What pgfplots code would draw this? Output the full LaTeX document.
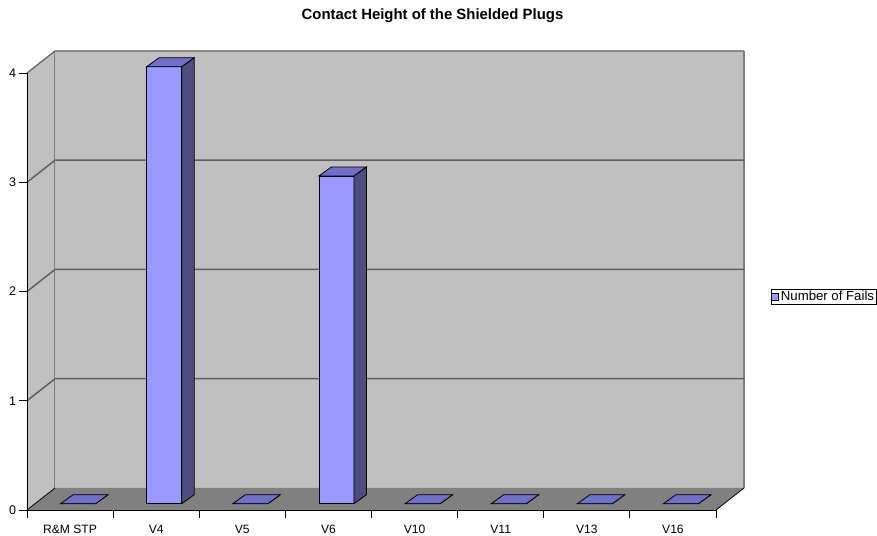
\documentclass[border=0pt]{standalone}
\usepackage{pgfplots}
\pgfplotsset{compat=1.18}
\usepackage{pgfplotstable}
\usepackage{fontspec}
\setmainfont{Liberation Sans}

\definecolor{wallgray}{RGB}{192,192,192}
\definecolor{floorgray}{RGB}{128,128,128}
\definecolor{gridgray}{RGB}{96,96,96}
\definecolor{edgegray}{RGB}{128,128,128}
\definecolor{barfront}{RGB}{153,153,255}
\definecolor{bartop}{RGB}{112,112,200}
\definecolor{barside}{RGB}{77,77,128}

% number of fails per plug version
\pgfplotstableread{
cat val
RMSTP 0
V4 4
V5 0
V6 3
V10 0
V11 0
V13 0
V16 0
}\failsdata

% depth of the 3-D box, in axis units
\def\dx{0.325}
\def\dy{0.2014}

% a bar drawn as a cuboid: front face, side face and top face
\pgfdeclareplotmark{cuboid}{%
  \pgfmathsetmacro\ybot{6.3-\barval*109.25}%
  \pgfmathsetmacro\ybotback{15.3-\barval*109.25}%
  \pgfsetlinewidth{0.8pt}%
  \pgfsetstrokecolor{black}%
  \pgfsetfillcolor{barfront}%
  \pgfpathrectanglecorners{\pgfpoint{-9.5pt}{\ybot pt}}{\pgfpoint{25.5pt}{6.3pt}}%
  \pgfusepath{fill,stroke}%
  \pgfsetfillcolor{barside}%
  \pgfpathmoveto{\pgfpoint{25.5pt}{6.3pt}}%
  \pgfpathlineto{\pgfpoint{38pt}{15.3pt}}%
  \pgfpathlineto{\pgfpoint{38pt}{\ybotback pt}}%
  \pgfpathlineto{\pgfpoint{25.5pt}{\ybot pt}}%
  \pgfpathclose
  \pgfusepath{fill,stroke}%
  \pgfsetfillcolor{bartop}%
  \pgfpathmoveto{\pgfpoint{-9.5pt}{6.3pt}}%
  \pgfpathlineto{\pgfpoint{25.5pt}{6.3pt}}%
  \pgfpathlineto{\pgfpoint{38pt}{15.3pt}}%
  \pgfpathlineto{\pgfpoint{3pt}{15.3pt}}%
  \pgfpathclose
  \pgfusepath{fill,stroke}%
}

\begin{document}
\begin{tikzpicture}
\useasboundingbox (-27pt,-25pt) rectangle (850pt,510pt);
\begin{axis}[
  at={(0,0)}, anchor=origin,
  x=86.125pt, y=109.25pt,
  xmin=0, xmax=8, ymin=0, ymax=4,
  clip=false,
  axis on top=true,
  axis lines=left,
  axis line style={-, black, line width=0.8pt},
  tick align=outside,
  major tick length=7.5pt,
  tick style={black, line width=0.8pt},
  xtick={0,...,8},
  xticklabels={R\&M STP,V4,V5,V6,V10,V11,V13,V16,{}},
  xticklabel style={xshift=43.06pt, yshift=-4pt, font=\fontsize{12.1}{13}\selectfont},
  ytick={0,...,4},
  yticklabel style={font=\fontsize{12.5}{13}\selectfont},
  /pgf/number format/assume math mode=true,
  title={Contact Height of the Shielded Plugs},
  title style={at={(rel axis cs:0.5885,1.117)}, anchor=center,
    font=\bfseries\fontsize{14.9}{16}\selectfont},
  legend style={at={(rel axis cs:1.0798,0.5057)}, anchor=north west,
    draw=black, line width=0.6pt, inner sep=0pt, outer sep=0pt,
    font=\fontsize{13.2}{14}\selectfont,
    /tikz/every even column/.append style={column sep=1pt},
    legend cell align=left},
]
% left side wall, back wall and floor
\fill[wallgray] (axis cs:0,0) -- (axis cs:\dx,\dy) -- (axis cs:\dx,4.2014) -- (axis cs:0,4) -- cycle;
\fill[wallgray] (axis cs:\dx,\dy) -- (axis cs:8.325,\dy) -- (axis cs:8.325,4.2014) -- (axis cs:\dx,4.2014) -- cycle;
\fill[floorgray] (axis cs:0,0) -- (axis cs:8,0) -- (axis cs:8.325,\dy) -- (axis cs:\dx,\dy) -- cycle;
% wall edges
\draw[edgegray, line width=1pt] (axis cs:\dx,\dy) -- (axis cs:\dx,4.2014);
\draw[edgegray, line width=1.2pt] (axis cs:8.325,\dy) -- (axis cs:8.325,4.2014);
\draw[gridgray, line width=1.2pt] (axis cs:0,4) -- (axis cs:\dx,4.2014) -- (axis cs:8.325,4.2014);
\draw[black, line width=0.8pt] (axis cs:0,0) -- (axis cs:\dx,\dy);
\draw[black, line width=0.8pt] (axis cs:8,0) -- (axis cs:8.325,\dy);
% grid lines on the walls
\pgfplotsinvokeforeach{1,2,3}{
  \draw[gridgray, line width=1.5pt] (axis cs:0,#1) -- (axis cs:\dx,#1.2014) -- (axis cs:8.325,#1.2014);
}
\addplot[
  scatter, only marks, mark=cuboid,
  visualization depends on={\thisrow{val} \as \barval},
  legend image code/.code={
    \draw[black, line width=0.7pt, fill=barfront] (0.5pt,-3.6pt) rectangle (7.7pt,3.6pt);
  },
] table[x expr=\coordindex+0.5, y=val] {\failsdata};
\addlegendentry{Number of Fails}
\end{axis}
\end{tikzpicture}
\end{document}
